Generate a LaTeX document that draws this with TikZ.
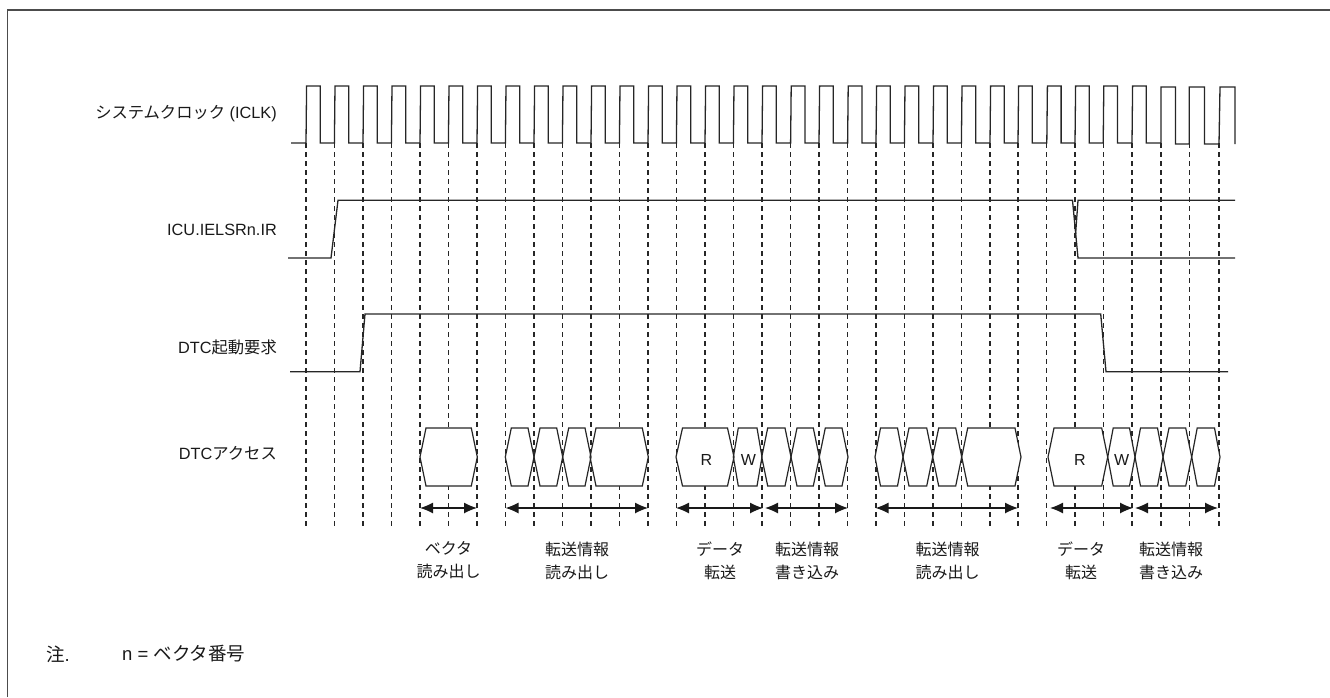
\documentclass[tikz,border=0pt]{standalone}
\usepackage{fontspec}
\setmainfont{Liberation Sans}
\newfontfamily\cjk{Noto Sans CJK JP}
\usetikzlibrary{arrows.meta}
\tikzset{
  x=1pt,y=-1pt,
  sig/.style={line width=1.3pt,line join=miter,draw=black!85},
  guide/.style={line width=1.3pt,dash pattern=on 4.5pt off 4.5pt,draw=black!85},
  hexa/.style={line width=1.2pt,draw=black!85},
  spanarrow/.style={line width=1.2pt,draw=black!90,{Latex[length=13pt,width=11pt]}-{Latex[length=13pt,width=11pt]}},
  lab/.style={font=\fontsize{16.3}{18}\selectfont,inner sep=0pt,text=black!90},
  captxt/.style={font=\fontsize{16}{23}\selectfont,inner sep=0pt,align=center,text=black!90},
  notetxt/.style={font=\fontsize{18.5}{20}\selectfont,inner sep=0pt,text=black!90},
  hl/.style={font=\fontsize{16}{18}\selectfont,inner sep=0pt,text=black!90}
}
\newcommand{\hexshape}[3]{% left, right, inset
  (#1,457) -- (#1+#3,428) -- (#2-#3,428) -- (#2,457) -- (#2-#3,486) -- (#1+#3,486) -- cycle}
\begin{document}
\begin{tikzpicture}
\useasboundingbox (0,0) rectangle (1330,697);
\draw[line width=1.6pt,draw=black!70] (7.5,697) -- (7.5,10) -- (1330,10);
% guides
\foreach \g in {306,334.4,363,391.4,420,448.4,477,505.4,534,562.4,591,619.4,648,676.4,705,733.4,762,790.6,819,847.6,876,904.4,933,961.4,990,1018,1046.8,1075,1103.2,1132,1161,1189.2,1219}
  \draw[guide] (\g,143) -- (\g,528);
% clock
\draw[sig] (291,143)
 \foreach \c in {306,334.4,363,391.4,420,448.4,477,505.4,534,562.4,591,619.4,648,676.4,705,733.4,762,790.6,819,847.6,876,904.4,933,961.4,990,1018,1046.8,1075,1103.2,1132}
 { -- (\c,143) -- (\c+0.6,86) -- (\c+14.3,86) -- (\c+14.3,143) }
 -- (1161,143) -- (1161,87) -- (1175.5,87) -- (1175.5,144)
 -- (1189.2,144) -- (1189.2,87) -- (1204.5,87) -- (1204.5,144)
 -- (1219,144) -- (1220,87) -- (1235,87) -- (1235,144);
% ICU
\draw[sig] (288,258) -- (331,258) -- (338,200.3) -- (1072.5,200.3) -- (1078,258) -- (1235,258);
\draw[sig] (1075.5,235) -- (1078,200.3) -- (1235,200.3);
% DTC start
\draw[sig] (290,371.7) -- (360,371.7) -- (365,314) -- (1100.7,314) -- (1106,371.7) -- (1228,371.7);
% hexagons
\foreach \a/\b/\i in {420/477.3/6,505.3/534/6,534/562.7/6,562.7/591/6,590/648.3/6,676/734/6.5,733.3/762/5,761.7/791/6,791/819.3/6,819.3/848/6,875/903/5.5,903/932.7/6,932.7/961.7/6,961.7/1021/6,1048/1107.7/6,1107.7/1135/5.5,1135/1163/5.5,1163/1191.7/6,1191.7/1220/5.5}
  \fill[white] \hexshape{\a}{\b}{\i};
\foreach \a/\b/\i in {420/477.3/6,505.3/534/6,534/562.7/6,562.7/591/6,590/648.3/6,676/734/6.5,733.3/762/5,761.7/791/6,791/819.3/6,819.3/848/6,875/903/5.5,903/932.7/6,932.7/961.7/6,961.7/1021/6,1048/1107.7/6,1107.7/1135/5.5,1135/1163/5.5,1163/1191.7/6,1191.7/1220/5.5}
  \draw[hexa] \hexshape{\a}{\b}{\i};
\node[hl] (r1) at (706.5,459.5) {R};
\node[hl] (w1) at (748.5,459.5) {W};
\node[hl] (r2) at (1080,459.5) {R};
\node[hl] (w2) at (1121.7,459.5) {W};
% spans
\coordinate (a1) at (420,508); \coordinate (b1) at (477,508);
\coordinate (a2) at (505.5,508); \coordinate (b2) at (648,508);
\coordinate (a3) at (676,508); \coordinate (b3) at (763,508);
\coordinate (a4) at (765,508); \coordinate (b4) at (848,508);
\coordinate (a5) at (875.5,508); \coordinate (b5) at (1018,508);
\coordinate (a6) at (1050,508); \coordinate (b6) at (1133,508);
\coordinate (a7) at (1135,508); \coordinate (b7) at (1218,508);
\foreach \n in {1,...,7} \draw[spanarrow] (a\n) -- (b\n);
% labels
\node[lab,anchor=east] (l1) at (277,114) {{\cjk システムクロック} (ICLK)};
\node[lab,anchor=east] (l2) at (277,230) {ICU.IELSRn.IR};
\node[lab,anchor=east] (l3) at (277,347) {DTC{\cjk 起動要求}};
\node[lab,anchor=east] (l4) at (277,453) {DTC{\cjk アクセス}};
\node[captxt] (c1) at (448.5,560.5) {\cjk ベクタ\\\cjk 読み出し};
\node[captxt] (c2) at (577,560.5) {\cjk 転送情報\\\cjk 読み出し};
\node[captxt] (c3) at (720,560.5) {\cjk データ\\\cjk 転送};
\node[captxt] (c4) at (807,560.5) {\cjk 転送情報\\\cjk 書き込み};
\node[captxt] (c5) at (947.5,560.5) {\cjk 転送情報\\\cjk 読み出し};
\node[captxt] (c6) at (1081,560.5) {\cjk データ\\\cjk 転送};
\node[captxt] (c7) at (1171,560.5) {\cjk 転送情報\\\cjk 書き込み};
\node[notetxt,anchor=west] (n1) at (46,654) {{\cjk 注}.};
\node[notetxt,anchor=west] (n2) at (122,654) {n = {\cjk ベクタ番号}};
\end{tikzpicture}
\end{document}
